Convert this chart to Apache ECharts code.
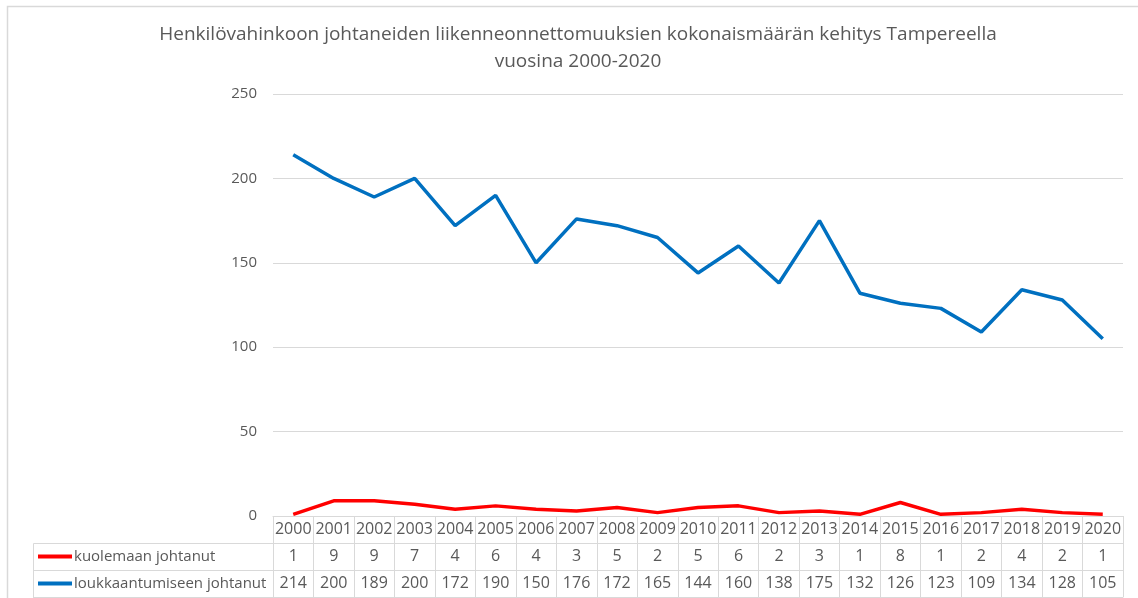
<!DOCTYPE html>
<html>
<head>
<meta charset="utf-8">
<script src="https://cdn.jsdelivr.net/npm/echarts@6/dist/echarts.min.js"></script>
<style>
  html, body { margin: 0; padding: 0; background: #fff; }
  #chart { width: 1138px; height: 598px; }
</style>
</head>
<body>
<div id="chart"></div>
<script>
// vuodet ja sarjat
const years = ['2000', '2001', '2002', '2003', '2004', '2005', '2006', '2007', '2008', '2009', '2010',
  '2011', '2012', '2013', '2014', '2015', '2016', '2017', '2018', '2019', '2020'];
const deaths = [1, 9, 9, 7, 4, 6, 4, 3, 5, 2, 5, 6, 2, 3, 1, 8, 1, 2, 4, 2, 1];
const injuries = [214, 200, 189, 200, 172, 190, 150, 176, 172, 165, 144, 160, 138, 175, 132, 126, 123, 109, 134, 128, 105];
const seriesNames = ['kuolemaan johtanut', 'loukkaantumiseen johtanut'];
const yTicks = { min: 0, max: 250, interval: 50 };

const font = '"Open Sans", sans-serif';
const textColor = '#595959';
const lineColor = '#d9d9d9';

// taulukon rivit tehdään x-akseleilla
function tableAxis(offset, labels) {
  return {
    type: 'category',
    position: 'bottom',
    offset: offset,
    data: years,
    boundaryGap: true,
    axisLine: { show: true, lineStyle: { color: lineColor, width: 1 } },
    axisTick: { show: !!labels, interval: 0, length: 27, lineStyle: { color: lineColor } },
    axisLabel: {
      show: !!labels,
      interval: 0,
      margin: 5,
      fontFamily: font,
      fontSize: 16,
      color: textColor,
      formatter: (v, i) => labels ? String(labels[i]) : ''
    },
    splitLine: { show: false }
  };
}

// yksi selite per taulukon rivi
function rowLegend(name, top) {
  return {
    orient: 'vertical',
    left: 38,
    top: top,
    padding: 0,
    itemWidth: 34,
    itemHeight: 4,
    icon: 'rect',
    data: [name],
    textStyle: { fontFamily: font, fontSize: 15, color: textColor, lineHeight: 27, padding: [0, 0, 0, -3] }
  };
}

const chart = echarts.init(document.getElementById('chart'));
chart.setOption({
  animation: false,
  backgroundColor: '#fff',
  title: {
    text: 'Henkilövahinkoon johtaneiden liikenneonnettomuuksien kokonaismäärän kehitys Tampereella\nvuosina 2000-2020',
    left: 573,
    textAlign: 'center',
    top: 16,
    textStyle: { fontFamily: font, fontSize: 19, fontWeight: 'normal', color: textColor, lineHeight: 27 }
  },
  legend: [
    rowLegend(seriesNames[0], 543),
    rowLegend(seriesNames[1], 570)
  ],
  grid: { left: 273, right: 15, top: 94, bottom: 82 },
  xAxis: [
    tableAxis(0, years),
    tableAxis(27, deaths),
    tableAxis(54, injuries),
    tableAxis(81, null)
  ],
  yAxis: {
    type: 'value',
    min: yTicks.min,
    max: yTicks.max,
    interval: yTicks.interval,
    axisLine: { show: false },
    axisTick: { show: false },
    axisLabel: { fontFamily: font, fontSize: 15, color: textColor, margin: 16 },
    splitLine: { lineStyle: { color: lineColor, width: 1 } }
  },
  series: [
    {
      name: seriesNames[0],
      type: 'line',
      data: deaths,
      symbol: 'none',
      color: '#ff0000',
      lineStyle: { width: 3.5, color: '#ff0000' }
    },
    {
      name: seriesNames[1],
      type: 'line',
      data: injuries,
      symbol: 'none',
      color: '#0070c0',
      lineStyle: { width: 3.5, color: '#0070c0' }
    }
  ],
  graphic: [
    // kaavion reunus
    { type: 'rect', shape: { x: 7.5, y: 6.5, width: 1140, height: 600 }, style: { fill: null, stroke: lineColor, lineWidth: 1.5 }, silent: true },
    // selitesarakkeen viivat
    { type: 'line', shape: { x1: 33.5, y1: 543.5, x2: 273, y2: 543.5 }, style: { stroke: lineColor, lineWidth: 1 } },
    { type: 'line', shape: { x1: 33.5, y1: 570.5, x2: 273, y2: 570.5 }, style: { stroke: lineColor, lineWidth: 1 } },
    { type: 'line', shape: { x1: 33.5, y1: 597.5, x2: 273, y2: 597.5 }, style: { stroke: lineColor, lineWidth: 1 } },
    { type: 'line', shape: { x1: 33.5, y1: 543.5, x2: 33.5, y2: 598 }, style: { stroke: lineColor, lineWidth: 1 } }
  ]
});
</script>
</body>
</html>
